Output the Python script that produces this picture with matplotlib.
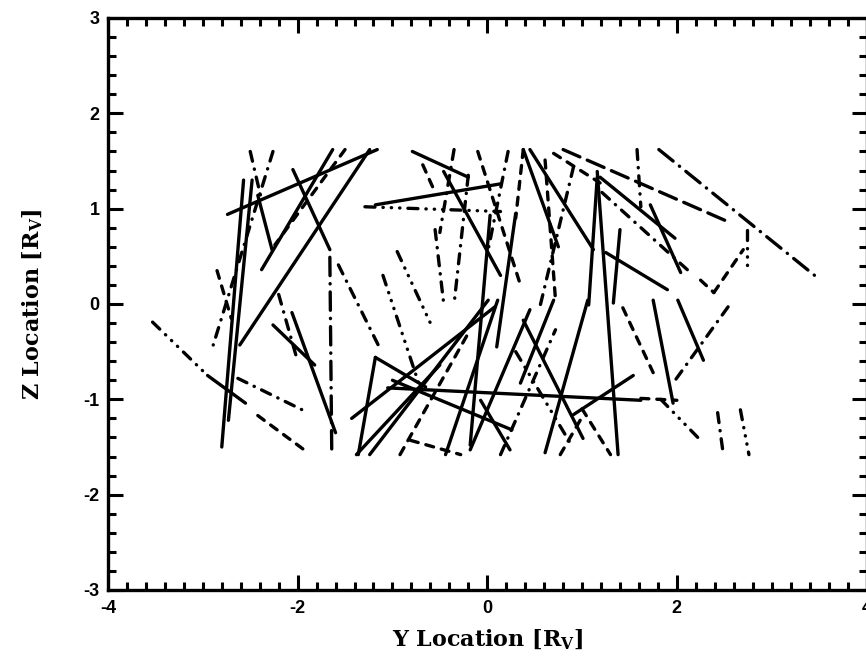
import matplotlib
matplotlib.use("Agg")
import matplotlib.pyplot as plt
from matplotlib.ticker import MultipleLocator

# ---- data: tracks as (y0, z0, y1, z1) in units of R_V ----
solid_tracks = [
    (-2.74, 0.94, -1.16, 1.62), (-2.57, 1.30, -2.80, -1.50), (-2.48, 1.30, -2.73, -1.22),
    (-1.24, 1.62, -2.61, -0.43), (-1.63, 1.62, -2.38, 0.36), (-2.42, 1.14, -2.27, 0.57),
    (-2.05, 1.41, -1.66, 0.57), (-1.18, 1.04, 0.14, 1.26), (-0.79, 1.60, -0.20, 1.33),
    (-0.46, 1.39, 0.14, 0.30), (0.03, 0.93, -0.18, -1.48), (1.16, 1.39, 1.38, -1.58),
    (1.16, 1.33, 1.07, -0.01), (0.45, 1.62, 1.12, 0.57), (1.19, 1.33, 1.98, 0.69),
    (1.72, 1.04, 2.04, 0.33), (1.25, 0.54, 1.90, 0.15), (1.40, 0.78, 1.33, 0.01),
    (0.38, -0.17, 1.01, -1.41), (1.06, 0.04, 0.61, -1.56), (0.70, 0.04, 0.35, -0.83),
    (1.54, -0.75, 0.91, -1.16), (1.75, 0.04, 1.96, -1.04), (2.01, 0.04, 2.28, -0.59),
    (-1.05, -0.88, 1.62, -1.01), (-1.43, -1.20, 0.08, -0.03), (-1.18, -0.56, -1.36, -1.58),
    (-1.18, -0.56, -0.65, -0.87), (-1.00, -0.80, 0.26, -1.32), (-2.95, -0.75, -2.55, -1.04),
    (-2.26, -0.22, -1.82, -0.64), (-2.06, -0.09, -1.60, -1.35), (-1.38, -1.58, -0.50, -0.64),
    (-1.24, -1.58, 0.01, 0.04), (-0.44, -1.58, 0.11, 0.04), (-0.18, -1.53, 0.45, -0.06),
    (-0.07, -1.01, 0.24, -1.53), (0.38, 1.62, 0.75, 0.60), (0.30, 0.95, 0.10, -0.45),
]
dashed_tracks = [
    (-1.50, 1.62, -2.24, 0.62), (-0.68, 1.46, -0.55, 1.17), (2.25, 0.25, 2.39, 0.12),
    (2.39, 0.12, 2.70, 0.57), (0.70, 1.58, 1.19, 1.27), (0.38, 1.62, 0.30, 0.90),
    (1.43, -0.04, 1.75, -0.72), (1.62, -0.99, 2.00, -1.01), (-2.42, -1.17, -1.89, -1.56),
    (-0.92, -1.58, -0.18, -0.27), (-0.81, -1.43, -0.28, -1.58), (0.98, -1.22, 0.77, -1.58),
    (0.61, 1.51, 0.72, 0.04), (-0.10, 1.60, 0.35, 0.20), (-2.85, 0.35, -2.70, -0.15),
    (1.00, -1.10, 1.30, -1.58),
]
dashdot_tracks = [
    (-2.50, 1.60, -2.38, 1.09), (-2.26, 1.60, -2.89, -0.43), (-1.57, 0.41, -1.15, -0.43),
    (-0.55, 0.78, -0.46, 0.01), (0.22, 1.60, 0.01, 0.57), (1.21, 1.17, 2.11, 0.36),
    (1.58, 1.62, 1.62, 1.02), (0.91, 1.44, 0.56, -0.01), (2.54, -0.03, 1.96, -0.83),
    (2.43, -1.14, 2.49, -1.58), (-2.63, -0.78, -1.89, -1.14), (0.14, -1.58, 0.72, -0.27),
    (-0.35, 1.62, -0.50, 0.75), (-0.20, 1.35, -0.35, 0.00), (-2.20, 0.10, -2.00, -0.60),
]
longdashdot_tracks = [
    (-1.66, 0.49, -1.64, -1.56), (1.81, 1.62, 3.49, 0.27),
]
longdash_tracks = [
    (0.80, 1.62, 2.57, 0.85),
]
dashdot3_tracks = [
    (-1.29, 1.02, 0.14, 0.97), (-3.53, -0.19, -2.95, -0.75), (2.67, -1.11, 2.76, -1.58),
    (1.83, -1.00, 2.25, -1.43), (2.74, 0.78, 2.74, 0.39), (-0.95, 0.55, -0.60, -0.20),
    (0.30, -0.50, 0.90, -1.50), (-1.10, 0.30, -0.70, -0.90),
]

x_ticks = [-4, -2, 0, 2, 4]
y_ticks = [-3, -2, -1, 0, 1, 2, 3]

styles = {
    "solid": "-",
    "dashed": (0, (2.4, 2.4)),
    "dashdot": (0, (3.0, 2.4, 0.1, 2.4)),
    "longdashdot": (0, (5.5, 2.4, 0.1, 2.4)),
    "longdash": (0, (5.5, 2.4)),
    "dashdot3": (0, (3.0, 2.4, 0.1, 2.4, 0.1, 2.4, 0.1, 2.4)),
}
groups = [
    (solid_tracks, "solid"), (dashed_tracks, "dashed"), (dashdot_tracks, "dashdot"),
    (longdashdot_tracks, "longdashdot"), (longdash_tracks, "longdash"),
    (dashdot3_tracks, "dashdot3"),
]

plt.rcParams["mathtext.fontset"] = "dejavuserif"
plt.rcParams["axes.unicode_minus"] = False
fig = plt.figure(figsize=(8.66, 6.69), dpi=100)
ax = fig.add_axes([108 / 866, 79 / 669, (866.5 - 108) / 866, (651 - 79) / 669])

for tracks, st in groups:
    for (x0, y0, x1, y1) in tracks:
        ax.plot([x0, x1], [y0, y1], color="black", lw=2.4, linestyle=styles[st],
                solid_capstyle="round", dash_capstyle="round")

ax.set_xlim(-4, 4)
ax.set_ylim(-3, 3)
ax.set_xticks(x_ticks)
ax.set_yticks(y_ticks)
ax.xaxis.set_minor_locator(MultipleLocator(0.2))
ax.yaxis.set_minor_locator(MultipleLocator(0.2))
ax.tick_params(which="both", direction="in", top=True, right=True, width=2.2, color="black")
ax.tick_params(which="major", length=11)
ax.tick_params(which="minor", length=6)
ax.tick_params(axis="x", which="major", pad=7)
ax.tick_params(axis="y", which="major", pad=6)
for sp in ax.spines.values():
    sp.set_linewidth(2.4)
for lab in ax.get_xticklabels() + ax.get_yticklabels():
    lab.set_fontfamily("Liberation Sans")
    lab.set_fontweight("bold")
    lab.set_fontsize(13)

ax.set_xlabel(r"Y Location [R$_{\mathbf{V}}$]", fontfamily="DejaVu Serif",
              fontweight="bold", fontsize=16, labelpad=8)
ax.set_ylabel(r"Z Location [R$_{\mathbf{V}}$]", fontfamily="DejaVu Serif",
              fontweight="bold", fontsize=16, labelpad=28)

fig.savefig("out.png", dpi=100)
